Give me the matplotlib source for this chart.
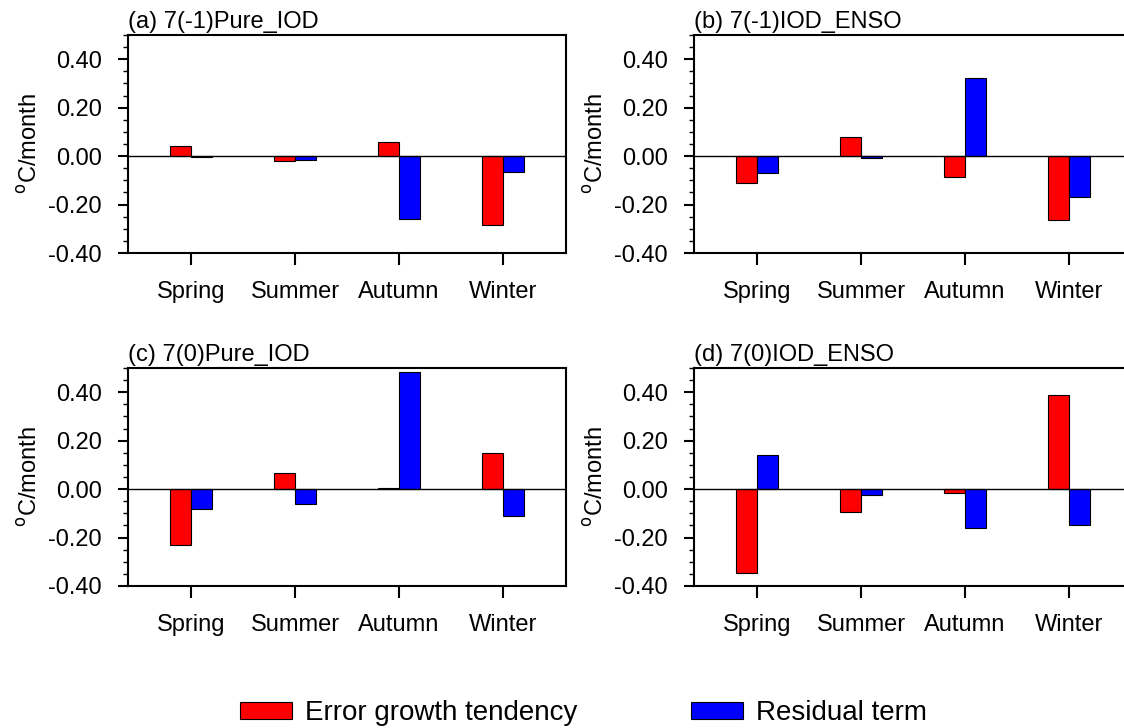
import matplotlib
matplotlib.use("Agg")
import matplotlib.pyplot as plt
import numpy as np
from matplotlib.patches import Patch
from matplotlib.ticker import MultipleLocator, FixedLocator

plt.rcParams['font.family'] = ['Liberation Sans', 'DejaVu Sans']

seasons = ["Spring", "Summer", "Autumn", "Winter"]
titles = ["(a) 7(-1)Pure_IOD", "(b) 7(-1)IOD_ENSO", "(c) 7(0)Pure_IOD", "(d) 7(0)IOD_ENSO"]

error_a = [0.040, -0.022, 0.059, -0.286]
resid_a = [-0.004, -0.018, -0.261, -0.067]
error_b = [-0.113, 0.077, -0.085, -0.265]
resid_b = [-0.069, -0.008, 0.324, -0.170]
error_c = [-0.230, 0.067, 0.004, 0.150]
resid_c = [-0.082, -0.062, 0.484, -0.109]
error_d = [-0.346, -0.096, -0.015, 0.389]
resid_d = [0.142, -0.023, -0.159, -0.147]

errors = [error_a, error_b, error_c, error_d]
resids = [resid_a, resid_b, resid_c, resid_d]

W, H = 1124, 728
fig = plt.figure(figsize=(W / 100, H / 100), dpi=100)

# axes boxes in pixels: left, right, top, bottom
boxes = [(128, 566, 35, 253), (694, 1132, 35, 253),
         (128, 566, 368, 586), (694, 1132, 368, 586)]

FS = 17
x = np.arange(1, 5)
bw = 0.2
for i, (l, r, t, b) in enumerate(boxes):
    ax = fig.add_axes([l / W, 1 - b / H, (r - l) / W, (b - t) / H])
    ax.bar(x - bw / 2, errors[i], width=bw, color='#ff0000', edgecolor='black', linewidth=0.8, zorder=2)
    ax.bar(x + bw / 2, resids[i], width=bw, color='#0000ff', edgecolor='black', linewidth=0.8, zorder=2)
    ax.axhline(0, color='black', linewidth=1.0, zorder=3)
    ax.set_xlim(0.394, 4.606)
    ax.set_ylim(-0.4, 0.5)
    ax.set_xticks(x)
    ax.set_xticklabels(seasons, fontsize=FS)
    ax.yaxis.set_major_locator(FixedLocator([-0.4, -0.2, 0.0, 0.2, 0.4]))
    ax.yaxis.set_minor_locator(MultipleLocator(0.05))
    ax.set_yticklabels(["%.2f" % v for v in [-0.4, -0.2, 0.0, 0.2, 0.4]], fontsize=FS)
    ax.tick_params(axis='x', direction='out', length=8.5, width=1.5, pad=12)
    ax.tick_params(axis='y', which='major', direction='out', length=7, width=1.5, pad=12)
    ax.tick_params(axis='y', which='minor', direction='out', length=3.6, width=1.0)
    for s in ax.spines.values():
        s.set_linewidth(1.5)
    ax.set_ylabel(r'$^{\mathrm{o}}$C/month', fontsize=FS)
    ax.yaxis.set_label_coords(-0.196, 0.5)
    ax.text(0.0, 1.01, titles[i], transform=ax.transAxes, ha='left', va='bottom', fontsize=FS)

handles = [Patch(facecolor='#ff0000', edgecolor='black', linewidth=0.8),
           Patch(facecolor='#0000ff', edgecolor='black', linewidth=0.8)]
fs_leg = 20
em = fs_leg * 100 / 72
fig.legend(handles, ["Error growth tendency", "Residual term"], ncol=2,
           loc='center left', bbox_to_anchor=(240 / W, 1 - 713 / H),
           frameon=False, fontsize=fs_leg, borderpad=0, borderaxespad=0,
           handlelength=52 / em, handleheight=16 / em, handletextpad=13 / em,
           columnspacing=114 / em)

fig.savefig("out.png", dpi=100)
